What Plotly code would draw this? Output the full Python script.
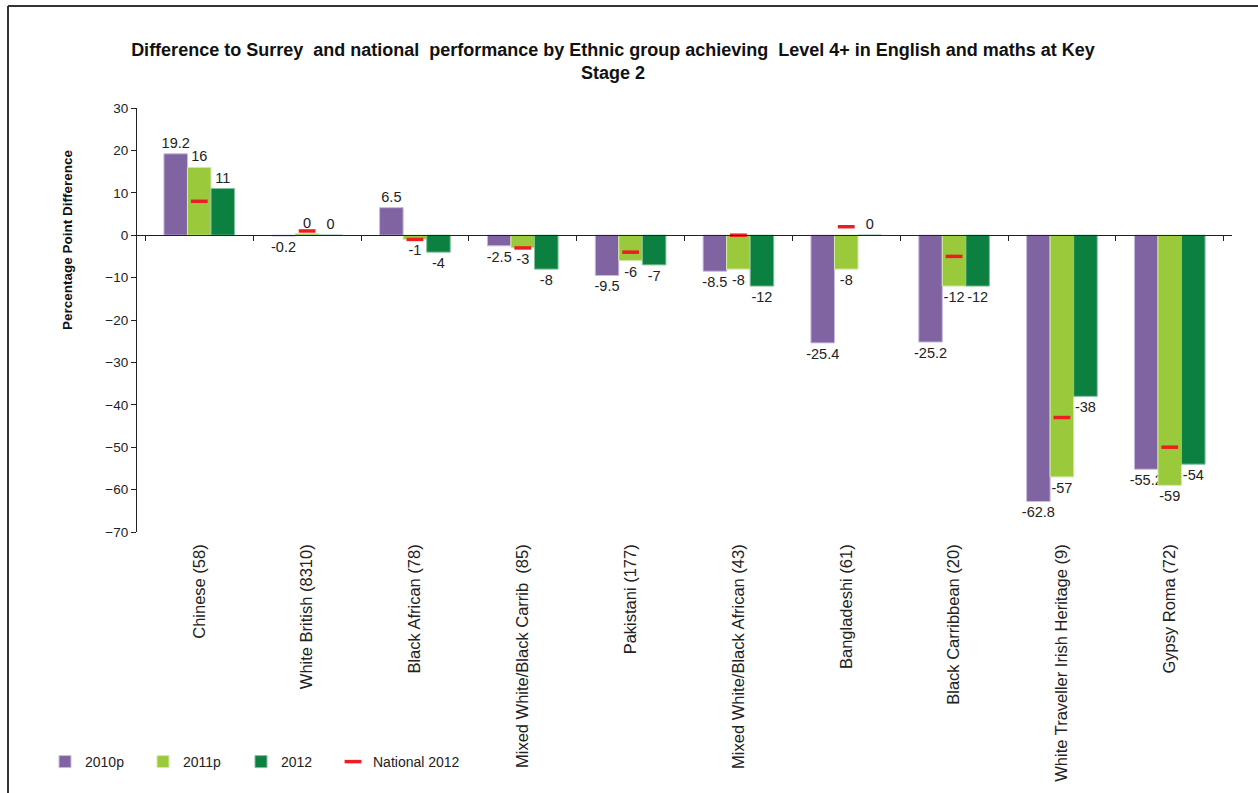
import plotly.graph_objects as go

categories = ["Chinese (58)", "White British (8310)", "Black African (78)",
              "Mixed White/Black Carrib  (85)", "Pakistani (177)",
              "Mixed White/Black African (43)", "Bangladeshi (61)",
              "Black Carribbean (20)", "White Traveller Irish Heritage (9)",
              "Gypsy Roma (72)"]
v2010 = [19.2, -0.2, 6.5, -2.5, -9.5, -8.5, -25.4, -25.2, -62.8, -55.2]
v2011 = [16, 0.4, -1, -3, -6, -8, -8, -12, -57, -59]
v2012 = [11, 0, -4, -8, -7, -12, 0, -12, -38, -54]
national2012 = [8, 1, -1, -3, -4, 0, 2, -5, -43, -50]

t2010 = [f"{v:g}" for v in v2010]
t2011 = [f"{v:.0f}" for v in v2011]
t2012 = [f"{v:.0f}" for v in v2012]

W, H = 1258, 793
L, R, T, B = 137, 26, 108, 261
PW, PH = W - L - R, H - T - B

def px(xp):
    return (xp - L) / PW

def py(yp):
    return ((H - B) - yp) / PH

font = "Liberation Sans, Arial, sans-serif"
txtfont = dict(family=font, size=14.5, color="#222222")

fig = go.Figure()
for name, vals, txt, col, edge, lg in [
    ("2010p", v2010, t2010, "#8064A2", "#C9BBDD", "legend"),
    ("2011p", v2011, t2011, "#9ACA3C", "#D3EAA8", "legend2"),
    ("2012", v2012, t2012, "#0B8040", "#7FC09A", "legend3"),
]:
    fig.add_trace(go.Bar(
        name=name, x=categories, y=vals, text=txt, textposition="outside",
        textfont=txtfont, marker=dict(color=col, line=dict(color=edge, width=1)),
        cliponaxis=False, constraintext="none", legend=lg,
    ))

fig.add_trace(go.Scatter(
    name="National 2012", x=categories, y=national2012, mode="markers",
    marker=dict(symbol="line-ew", size=12, line=dict(color="#EE1C25", width=3.5),
                color="#EE1C25"),
    cliponaxis=False, legend="legend4",
))

# helper trace for the category axis drawn at y = 0
fig.add_trace(go.Scatter(x=categories, y=[0] * len(categories), xaxis="x2",
                         mode="markers", marker=dict(opacity=0), showlegend=False,
                         hoverinfo="skip"))

def leg(text_x):
    return dict(orientation="h", x=px(text_x - 38), xanchor="left",
                y=py(762), yanchor="middle", bgcolor="rgba(0,0,0,0)",
                font=dict(family=font, size=14, color="#222222"))

ymin, ymax = -70, 30
fig.update_layout(
    width=W, height=H,
    margin=dict(l=L, r=R, t=T, b=B, autoexpand=False),
    paper_bgcolor="white", plot_bgcolor="white",
    barmode="group", bargap=0.345, bargroupgap=0,
    font=dict(family=font, size=13, color="#222222"),
    title=dict(
        text="<b>Difference to Surrey  and national  performance by Ethnic group achieving  Level 4+ in English and maths at Key<br>Stage 2</b>",
        x=613 / W, xanchor="center", xref="container",
        y=1 - 56 / H, yanchor="middle",
        font=dict(family=font, size=18, color="#111111"),
    ),
    xaxis=dict(
        type="category", showline=False, ticks="", tickangle=-90,
        tickfont=dict(family=font, size=16.5, color="#222222"),
        showgrid=False, zeroline=False, ticklabelstandoff=8,
    ),
    xaxis2=dict(
        type="category", overlaying="x", matches="x", anchor="free",
        position=(0 - ymin) / (ymax - ymin), showline=True, linecolor="#222222",
        linewidth=1.2, ticks="outside", tickson="boundaries", ticklen=5,
        tickcolor="#222222", showticklabels=False, showgrid=False,
    ),
    yaxis=dict(
        range=[ymin, ymax], dtick=10, showline=True, linecolor="#222222",
        linewidth=1.2, ticks="outside", ticklen=5, tickcolor="#222222",
        showgrid=False, zeroline=False,
        tickfont=dict(family=font, size=13.5, color="#222222"),
    ),
    legend=leg(83),
    legend2=leg(181),
    legend3=leg(279),
    legend4=leg(371),
    showlegend=True,
)

fig.add_annotation(
    text="<b>Percentage Point Difference</b>", textangle=-90,
    xref="paper", yref="paper", x=px(67), y=py(240),
    xanchor="center", yanchor="middle", showarrow=False,
    font=dict(family=font, size=13.5, color="#111111"),
)

# chart frame
fig.add_shape(type="line", xref="paper", yref="paper",
              x0=px(8), x1=px(W), y0=py(6), y1=py(6),
              line=dict(color="#333333", width=2))
fig.add_shape(type="line", xref="paper", yref="paper",
              x0=px(8), x1=px(8), y0=py(6), y1=py(H),
              line=dict(color="#333333", width=2))

fig.write_html("out.html", config={"displayModeBar": False},
               post_script="document.body.style.margin='0px';")
